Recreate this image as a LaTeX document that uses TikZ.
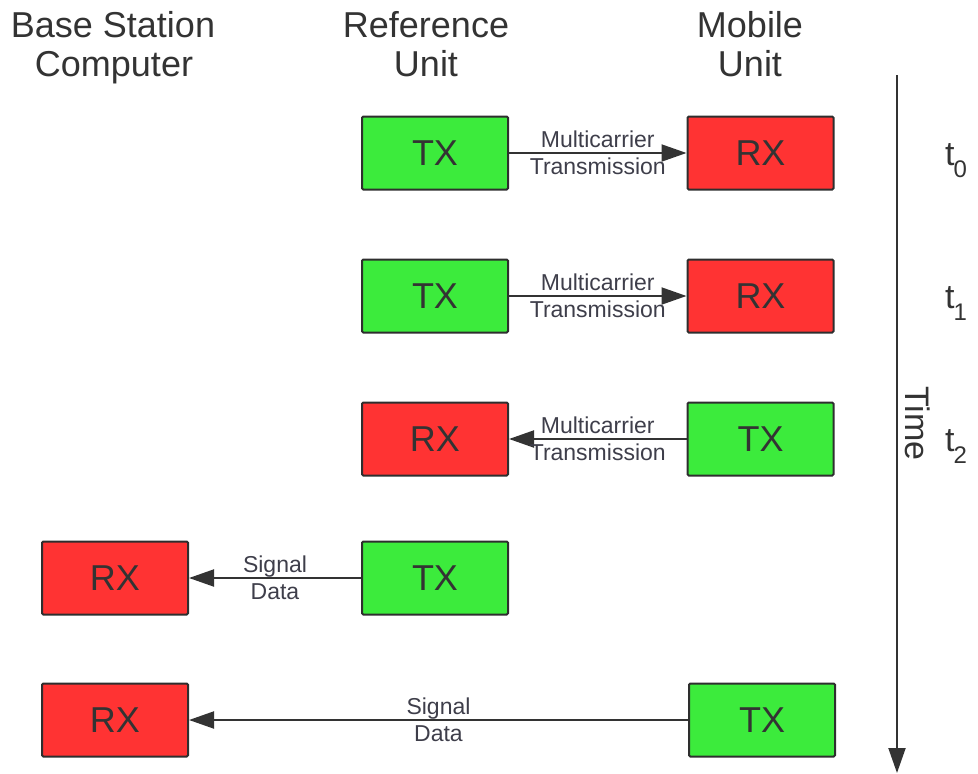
\documentclass[tikz,border=0pt]{standalone}
\usepackage{fontspec}
\setmainfont{Liberation Sans}
\usetikzlibrary{arrows.meta}

\definecolor{txgreen}{HTML}{3CEB3C}
\definecolor{rxred}{HTML}{FF3333}
\definecolor{edgegray}{HTML}{2E2E2E}
\definecolor{inkgray}{HTML}{333333}
\definecolor{labelgray}{HTML}{3E3E4A}

\tikzset{
  unitbox/.style={draw=edgegray, line width=2pt, rounded corners=1.2pt,
    minimum width=146pt, minimum height=73pt, inner sep=0pt,
    text=inkgray, font=\fontsize{36}{40}\selectfont},
  txbox/.style={unitbox, fill=txgreen},
  rxbox/.style={unitbox, fill=rxred},
  header/.style={anchor=base, inner sep=0pt, text=inkgray,
    font=\fontsize{36}{40}\selectfont},
  linklabel/.style={align=center, inner sep=0pt, text=labelgray,
    font=\fontsize{23}{27}\selectfont},
  link/.style={draw=inkgray, line width=2pt,
    -{Triangle[length=25pt, width=17pt]}},
  timelabel/.style={inner sep=0pt, text=inkgray,
    font=\fontsize{34}{38}\selectfont},
}

\begin{document}
\begin{tikzpicture}[x=1pt, y=-1pt]
  \useasboundingbox (0,0) rectangle (978,774);

  % column headings
  \node[header] (hbase1) at (113,37) {Base Station};
  \node[header] (hbase2) at (114,76) {Computer};
  \node[header] (href1)  at (426,37) {Reference};
  \node[header] (href2)  at (426,76) {Unit};
  \node[header] (hmob1)  at (750,37) {Mobile};
  \node[header] (hmob2)  at (750,76) {Unit};

  % t0: reference transmits to mobile
  \node[txbox] (ref0) at (435,153) {TX};
  \node[rxbox] (mob0) at (760.5,153) {RX};
  \draw[link] (ref0) -- node[linklabel] (lab0) {Multicarrier\\Transmission} (mob0);

  % t1: reference transmits to mobile
  \node[txbox] (ref1) at (435,296) {TX};
  \node[rxbox] (mob1) at (760.5,296) {RX};
  \draw[link] (ref1) -- node[linklabel] (lab1) {Multicarrier\\Transmission} (mob1);

  % t2: mobile transmits to reference
  \node[rxbox] (ref2) at (435,439) {RX};
  \node[txbox] (mob2) at (760.5,439) {TX};
  \draw[link] (mob2) -- node[linklabel] (lab2) {Multicarrier\\Transmission} (ref2);

  % reference unit reports to base station
  \node[rxbox] (base3) at (115,578) {RX};
  \node[txbox] (ref3)  at (435,578) {TX};
  \draw[link] (ref3) -- node[linklabel] (lab3) {Signal\\Data} (base3);

  % mobile unit reports to base station
  \node[rxbox] (base4) at (115,720) {RX};
  \node[txbox] (mob4)  at (762,720) {TX};
  \draw[link] (mob4) -- node[linklabel] (lab4) {Signal\\Data} (base4);

  % time axis
  \coordinate (tstart) at (897,75);
  \coordinate (tend)   at (897,773);
  \draw[draw=inkgray, line width=2pt,
    -{Triangle[length=25pt, width=17pt]}] (tstart) -- (tend);
  \node[timelabel, rotate=-90] (time) at (917.5,423.5) {Time};

  % time instants
  \node[timelabel, anchor=base] (tt0) at (956,165) {t\kern-1pt\raisebox{-12pt}{\fontsize{24}{24}\selectfont 0}};
  \node[timelabel, anchor=base] (tt1) at (956,308) {t\kern-1pt\raisebox{-12pt}{\fontsize{24}{24}\selectfont 1}};
  \node[timelabel, anchor=base] (tt2) at (956,451) {t\kern-1pt\raisebox{-12pt}{\fontsize{24}{24}\selectfont 2}};
\end{tikzpicture}
\end{document}
